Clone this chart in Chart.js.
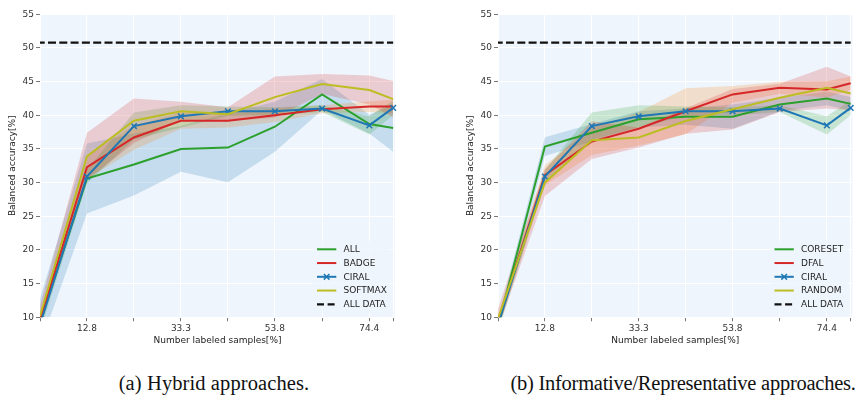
<!DOCTYPE html>
<html><head><meta charset="utf-8">
<script src="https://cdn.jsdelivr.net/npm/chart.js@4.4.0/dist/chart.umd.min.js"></script>
<style>
html,body{margin:0;padding:0;background:#fff;width:858px;height:404px;overflow:hidden;}
#c1{position:absolute;left:0;top:0;}
#c2{position:absolute;left:458px;top:0;}
.cap{position:absolute;top:371px;font-family:"Liberation Serif","DejaVu Serif",serif;font-size:20.5px;line-height:24px;color:#111;white-space:nowrap;transform:translateX(-50%);}
</style></head><body>
<canvas id="c1" width="410" height="348"></canvas>
<canvas id="c2" width="400" height="348"></canvas>
<div class="cap" style="left:214px;letter-spacing:0.1px">(a) Hybrid approaches.</div>
<div class="cap" style="left:683px;letter-spacing:-0.25px">(b) Informative/Representative approaches.</div>
<script>
// ---- data ----
const xValues = [2.56, 12.8, 23.05, 33.3, 43.55, 53.8, 64.1, 74.4, 79.6];
const xTickLabels = ['', '12.8', '', '33.3', '', '53.8', '', '74.4', ''];
const allDataLevel = 50.8;

// (a) Hybrid approaches
const allMean     = [9.3, 30.6, 32.7, 35.0, 35.2, 38.3, 43.1, 38.7, 38.1];
const allStd      = [3.5, 5.2, 4.6, 3.4, 5.15, 3.7, 2.3, 1.4, 3.5];
const badgeMean   = [9.6, 32.3, 36.7, 39.2, 39.2, 40.0, 40.9, 41.3, 41.3];
const badgeStd    = [1.0, 1.8, 1.8, 1.2, 1.0, 1.0, 0.6, 0.8, 1.0];
const ciralMean   = [8.9, 30.9, 38.4, 39.85, 40.6, 40.6, 41.0, 38.5, 41.1];
const ciralStd    = [1.0, 1.0, 2.0, 1.65, 0.7, 0.6, 0.5, 1.35, 1.1];
const softmaxMean = [10.2, 33.9, 39.2, 40.6, 40.15, 42.7, 44.65, 43.75, 42.4];
const softmaxStd  = [1.5, 3.5, 3.3, 1.4, 1.05, 3.05, 1.5, 2.15, 2.7];

// (b) Informative/Representative approaches
const coresetMean = [8.7, 35.35, 37.4, 39.4, 39.8, 39.8, 41.6, 42.5, 41.7];
const coresetStd  = [1.0, 1.4, 1.3, 1.2, 1.2, 1.8, 1.0, 1.0, 1.0];
const dfalMean    = [9.3, 31.1, 36.1, 38.0, 40.6, 43.1, 44.1, 43.85, 44.75];
const dfalStd     = [1.0, 1.5, 2.0, 2.5, 3.4, 1.25, 0.9, 1.2, 1.0];
const randomMean  = [9.8, 30.0, 36.3, 36.7, 39.15, 40.9, 42.6, 44.1, 43.25];
const randomStd   = [1.5, 2.0, 2.8, 1.5, 1.9, 3.0, 2.1, 3.1, 2.5];

const hybridLabels = ['ALL', 'BADGE', 'CIRAL', 'SOFTMAX', 'ALL DATA'];
const infoLabels   = ['CORESET', 'DFAL', 'CIRAL', 'RANDOM', 'ALL DATA'];

// ---- style ----
const C = {blue:'#1f77b4', orange:'#ff7f0e', green:'#2ca02c', red:'#d62728', olive:'#bcbd22'};
const fillCycle = ['rgba(31,119,180,0.2)','rgba(255,127,14,0.2)','rgba(44,160,44,0.2)','rgba(214,39,40,0.2)'];
const PLOT_BG = '#eef5fc';
const DASH = [8, 3.3];
Chart.defaults.font.family = '"DejaVu Sans", sans-serif';

function pts(arr){ return arr.map((v,i)=>({x:xValues[i], y:v})); }

const bgPlugin = {
  id:'plotBg',
  beforeDraw(chart){
    const {ctx, chartArea:a} = chart;
    ctx.save(); ctx.fillStyle = PLOT_BG;
    ctx.fillRect(a.left, a.top, a.right-a.left, a.bottom-a.top);
    ctx.restore();
  }
};

const legendPlugin = {
  id:'customLegend',
  afterDatasetsDraw(chart, args, opts){
    const {ctx, chartArea:a} = chart;
    const items = opts.items || [];
    ctx.save();
    ctx.fillStyle = 'rgba(238,245,252,0.8)';
    ctx.fillRect(a.right-82, a.bottom-76, 77.5, 71.5);
    items.forEach((it,i)=>{
      const y = a.bottom - 68 + i*13.75;
      const x1 = a.right - 78, x2 = a.right - 58.7;
      ctx.strokeStyle = it.color;
      ctx.lineWidth = it.dash ? 2.2 : 2;
      ctx.setLineDash(it.dash || []);
      ctx.beginPath(); ctx.moveTo(x1,y); ctx.lineTo(x2,y); ctx.stroke();
      ctx.setLineDash([]);
      if (it.marker){
        const cx=(x1+x2)/2, r=2.8;
        ctx.lineWidth=1.5;
        ctx.beginPath(); ctx.moveTo(cx-r,y-r); ctx.lineTo(cx+r,y+r);
        ctx.moveTo(cx-r,y+r); ctx.lineTo(cx+r,y-r); ctx.stroke();
      }
      ctx.fillStyle='#222'; ctx.font='9px "DejaVu Sans"'; ctx.textBaseline='middle'; ctx.textAlign='left';
      ctx.fillText(it.label, a.right-51.5, y+0.5);
    });
    ctx.restore();
  }
};

function makeChart(id, series, labels, rightPad){
  const datasets = [];
  const clip = {left:0, top:0, bottom:0, right:6};
  series.forEach((s,i)=>{
    datasets.push({data:pts(s.mean.map((m,k)=>m+s.std[k])), borderWidth:0, pointRadius:0,
      fill:'+1', backgroundColor:fillCycle[i], order:100-i, clip});
    datasets.push({data:pts(s.mean.map((m,k)=>m-s.std[k])), borderWidth:0, pointRadius:0,
      fill:false, order:100-i, clip});
  });
  series.forEach((s,i)=>{
    datasets.push({data:pts(s.mean), borderColor:s.color, borderWidth:2, fill:false,
      pointRadius: s.marker?4:0, pointStyle:'crossRot', pointBorderColor:s.color, pointBorderWidth:1.5,
      order:20-i, clip, tension:0});
  });
  datasets.push({data:pts(xValues.map(()=>allDataLevel)), borderColor:'#111', borderWidth:2.2,
    borderDash:DASH, borderDashOffset:-8, pointRadius:0, fill:false, order:5, clip});

  const items = series.map((s,i)=>({label:labels[i], color:s.color, marker:s.marker}));
  items.push({label:labels[4], color:'#111', dash:[7,3.6]});

  const tickFont = {size:9, family:'"DejaVu Sans", sans-serif'};
  return new Chart(document.getElementById(id), {
    type:'line',
    data:{datasets},
    plugins:[bgPlugin, legendPlugin],
    options:{
      responsive:false, animation:false, devicePixelRatio:1,
      layout:{padding:{left:0, top:14.3, right:rightPad, bottom:0.7}},
      plugins:{legend:{display:false}, tooltip:{enabled:false}, customLegend:{items}},
      scales:{
        x:{type:'linear', min:2.56, max:80,
          afterBuildTicks:(sc)=>{ sc.ticks = xValues.map(v=>({value:v})); },
          afterFit:(sc)=>{ sc.height = 30; },
          ticks:{autoSkip:false, maxRotation:0, font:tickFont, color:'#333', padding:1.5,
            callback:(v,i)=>xTickLabels[i]},
          grid:{color:'#ffffff', lineWidth:1, tickLength:4, tickColor:'#555', tickWidth:0.8},
          border:{display:false},
          title:{display:true, text:'Number labeled samples[%]', font:{size:9}, color:'#222', padding:{top:0,bottom:1}}
        },
        y:{min:10, max:55,
          afterFit:(sc)=>{ sc.width = 40; },
          ticks:{stepSize:5, font:tickFont, color:'#333', padding:2},
          grid:{color:'#ffffff', lineWidth:1, tickLength:4, tickColor:'#555', tickWidth:0.8},
          border:{display:false},
          title:{display:true, text:'Balanced accuracy[%]', font:{size:9}, color:'#222', padding:{top:7,bottom:0}}
        }
      }
    }
  });
}

makeChart('c1', [
  {mean:allMean, std:allStd, color:C.green},
  {mean:badgeMean, std:badgeStd, color:C.red},
  {mean:ciralMean, std:ciralStd, color:C.blue, marker:true},
  {mean:softmaxMean, std:softmaxStd, color:C.olive}
], hybridLabels, 15);

makeChart('c2', [
  {mean:coresetMean, std:coresetStd, color:C.green},
  {mean:dfalMean, std:dfalStd, color:C.red},
  {mean:ciralMean, std:ciralStd, color:C.blue, marker:true},
  {mean:randomMean, std:randomStd, color:C.olive}
], infoLabels, 4);
</script>
</body></html>
